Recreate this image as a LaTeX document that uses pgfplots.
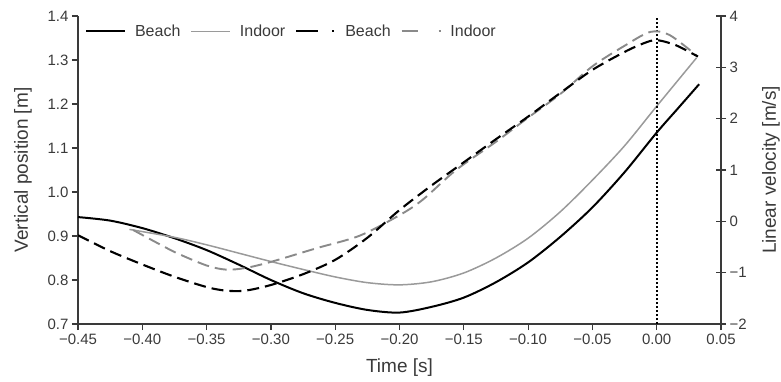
\documentclass[border=0pt]{standalone}
\usepackage{fontspec}
\setmainfont{Liberation Sans}
\usepackage{pgfplots}
\pgfplotsset{compat=1.18}
\definecolor{axgray}{HTML}{3A3A3A}
\definecolor{lgray}{HTML}{9A9A9A}
\definecolor{dgray}{HTML}{8A8A8A}
\begin{document}
\begin{tikzpicture}
\path[use as bounding box] (-78pt,-57pt) rectangle (703pt,324pt);
\pgfplotsset{/pgf/number format/assume math mode=true,
  tick label style={font=\fontsize{15}{17}\selectfont, text=axgray}}
\begin{axis}[
  at={(0,0)}, anchor=south west,
  scale only axis, width=643pt, height=308pt,
  xmin=-0.45, xmax=0.05, ymin=0.7, ymax=1.4,
  axis x line*=bottom, axis y line*=left,
  axis line style={-, axgray, line width=1.4pt},
  tick style={axgray, line width=1.2pt},
  major tick length=6pt,
  tick align=outside,
  xtick={-0.45,-0.40,-0.35,-0.30,-0.25,-0.20,-0.15,-0.10,-0.05,0,0.05},
  xticklabels={−0.45,−0.40,−0.35,−0.30,−0.25,−0.20,−0.15,−0.10,−0.05,0.00,0.05},
  ytick={0.7,0.8,0.9,1.0,1.1,1.2,1.3,1.4},
  yticklabels={0.7,0.8,0.9,1.0,1.1,1.2,1.3,1.4},
  xlabel={Time [s]}, ylabel={Vertical position [m]},
  every axis x label/.style={at={(axis description cs:0.5,0)}, yshift=-44pt, anchor=center,
    font=\fontsize{19}{21}\selectfont, text=axgray},
  every axis y label/.style={at={(axis description cs:0,0.5)}, xshift=-55pt, rotate=90, anchor=center,
    font=\fontsize{19}{21}\selectfont, text=axgray},
  legend style={draw=none, fill=none, at={(0.006,0.985)}, anchor=north west,
    legend columns=4, font=\fontsize{16}{18}\selectfont, text=axgray,
    /tikz/every even column/.append style={column sep=8pt}},
  legend image code/.code={\draw[#1] (0pt,0pt) -- (39pt,0pt); \path (46pt,0pt);},
]
\addplot[black, line width=2pt, smooth] coordinates {
(-0.45,0.943) (-0.425,0.935) (-0.40,0.918) (-0.375,0.895) (-0.35,0.868)
(-0.325,0.835) (-0.30,0.800) (-0.275,0.770) (-0.25,0.748) (-0.225,0.732)
(-0.20,0.726) (-0.175,0.739) (-0.15,0.760) (-0.125,0.795) (-0.10,0.840)
(-0.075,0.898) (-0.05,0.965) (-0.025,1.045) (0.00,1.135) (0.0165,1.190)
(0.033,1.245)};
\addlegendentry{Beach}
\addplot[lgray, line width=1.5pt, smooth] coordinates {
(-0.41,0.915) (-0.375,0.897) (-0.35,0.880) (-0.325,0.861) (-0.30,0.842)
(-0.275,0.824) (-0.25,0.807) (-0.225,0.794) (-0.20,0.789) (-0.175,0.796)
(-0.15,0.816) (-0.125,0.850) (-0.10,0.895) (-0.075,0.955) (-0.05,1.027)
(-0.025,1.105) (0.00,1.195) (0.031,1.305)};
\addlegendentry{Indoor}
\addlegendimage{black, line width=2pt, dash pattern=on 22pt off 14pt on 2pt off 20pt}
\addlegendentry{Beach}
\addlegendimage{dgray, line width=1.8pt, dash pattern=on 16pt off 21pt on 2pt off 20pt}
\addlegendentry{Indoor}
\addplot[black, line width=2pt, dotted, forget plot] coordinates {(0,0.7) (0,1.4)};
\end{axis}
\begin{axis}[
  at={(0,0)}, anchor=south west,
  scale only axis, width=643pt, height=308pt,
  xmin=-0.45, xmax=0.05, ymin=-2, ymax=4,
  axis x line=none, axis y line*=right,
  axis line style={-, axgray, line width=1.4pt},
  tick style={axgray, line width=1.2pt},
  major tick length=10pt,
  tick align=center,
  ytick={-2,-1,0,1,2,3,4},
  yticklabels={−2,−1,0,1,2,3,4},
  ylabel={Linear velocity [m/s]},
  every axis y label/.style={at={(axis description cs:1,0.5)}, xshift=50pt, rotate=90, anchor=center,
    font=\fontsize{19}{21}\selectfont, text=axgray},
]
\addplot[dgray, line width=1.9pt, smooth, dash pattern=on 12pt off 6pt] coordinates {
(-0.407,-0.17) (-0.39,-0.40) (-0.373,-0.62) (-0.35,-0.86) (-0.335,-0.94)
(-0.32,-0.91) (-0.30,-0.79) (-0.264,-0.52) (-0.231,-0.28) (-0.20,0.12)
(-0.182,0.42) (-0.156,1.00) (-0.125,1.55) (-0.10,2.02) (-0.075,2.48)
(-0.05,3.02) (-0.025,3.42) (-0.005,3.69) (0.010,3.63) (0.032,3.21)};
\addplot[black, line width=2.1pt, smooth, dash pattern=on 12pt off 6pt] coordinates {
(-0.45,-0.27) (-0.425,-0.58) (-0.40,-0.84) (-0.375,-1.08) (-0.35,-1.28)
(-0.335,-1.35) (-0.32,-1.35) (-0.30,-1.24) (-0.275,-1.03) (-0.25,-0.75)
(-0.225,-0.32) (-0.20,0.22) (-0.175,0.70) (-0.15,1.15) (-0.125,1.60)
(-0.10,2.04) (-0.075,2.50) (-0.05,2.95) (-0.025,3.30) (-0.01,3.47)
(0.00,3.53) (0.015,3.43) (0.032,3.21)};
\end{axis}
\end{tikzpicture}
\end{document}
